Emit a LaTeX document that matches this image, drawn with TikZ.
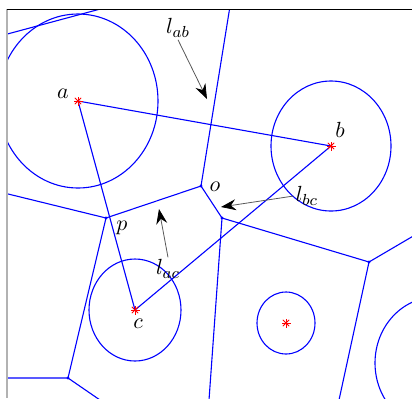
\documentclass[tikz,border=0pt]{standalone}
\usetikzlibrary{arrows.meta}
\tikzset{
 edge/.style={blue,line width=.55pt},
 pointer/.style={black!65,line width=.4pt,-{Stealth[length=7.5pt,width=5.5pt,inset=2.5pt,black]}},
 tag/.style={inner sep=1pt},
}
\begin{document}
\begin{tikzpicture}[x=.5pt,y=-.5pt,font=\fontsize{11}{13}\selectfont]
 \useasboundingbox (0,0) rectangle (412,398);
 \coordinate (a) at (78,101);
 \coordinate (b) at (331,146);
 \coordinate (c) at (135,310);
 \coordinate (d) at (286,323);
 \coordinate (e) at (436,363);
 \coordinate (o) at (201,186);
 \coordinate (p) at (106,218);
 \coordinate (q) at (68,378);
 \coordinate (r) at (222,218);
 \coordinate (s) at (369,262);
 \coordinate (ot) at (231,0);
 \coordinate (pl) at (0,192);
 \coordinate (ql) at (0,378);
 \coordinate (qb) at (100,400);
 \coordinate (rb) at (209,400);
 \coordinate (sr) at (415,235);
 \coordinate (sb) at (339,400);
 \coordinate (tl) at (0,36);
 \coordinate (tr) at (104,8);
 \begin{scope}
  \clip (7,9) rectangle (412,398);
  \draw[edge] (a) ellipse (80 and 87) (b) ellipse (60 and 65) (c) ellipse (46 and 51)
   (d) ellipse (29 and 31) (e) ellipse (61 and 66);
  \draw[edge] (ot)--(o)--(p)--(pl) (p)--(q)--(ql) (q)--(qb) (o)--(r)--(rb) (r)--(s)--(sr) (s)--(sb) (tl)--(tr);
  \draw[edge] (a)--(b)--(c)--cycle;
  \foreach \v in {o,p,q,r,s}{\fill[blue] (\v) circle (1.6);}
  \foreach \s in {a,b,c,d}{\foreach \t in {0,45,90,135}{\draw[red,line width=.4pt] (\s) ++(\t:4.5) -- ++(\t+180:9);}}
 \end{scope}
 \draw[gray!60,line width=1pt] (7,9)--(7,398);
 \draw[line width=.5pt] (7,9)--(412,9);
 \node[tag] (la) at (63,94) {$a$};
 \node[tag] (lb) at (340,130) {$b$};
 \node[tag] (lc) at (138,324) {$c$};
 \node[tag] (lo) at (215,187) {$o$};
 \node[tag] (lp) at (122,228) {$p$};
 \node[tag] (lab) at (178,28) {$l_{ab}$};
 \node[tag] (lbc) at (307,196) {$l_{bc}$};
 \node[tag] (lac) at (168,269) {$l_{ac}$};
 \coordinate (hab) at (207,99);
 \coordinate (hbc) at (221,207);
 \coordinate (hac) at (159,209);
 \draw[pointer] (lab.south) -- (hab);
 \draw[pointer] (lbc.west) -- (hbc);
 \draw[pointer] (lac.north) -- (hac);
\end{tikzpicture}
\end{document}
